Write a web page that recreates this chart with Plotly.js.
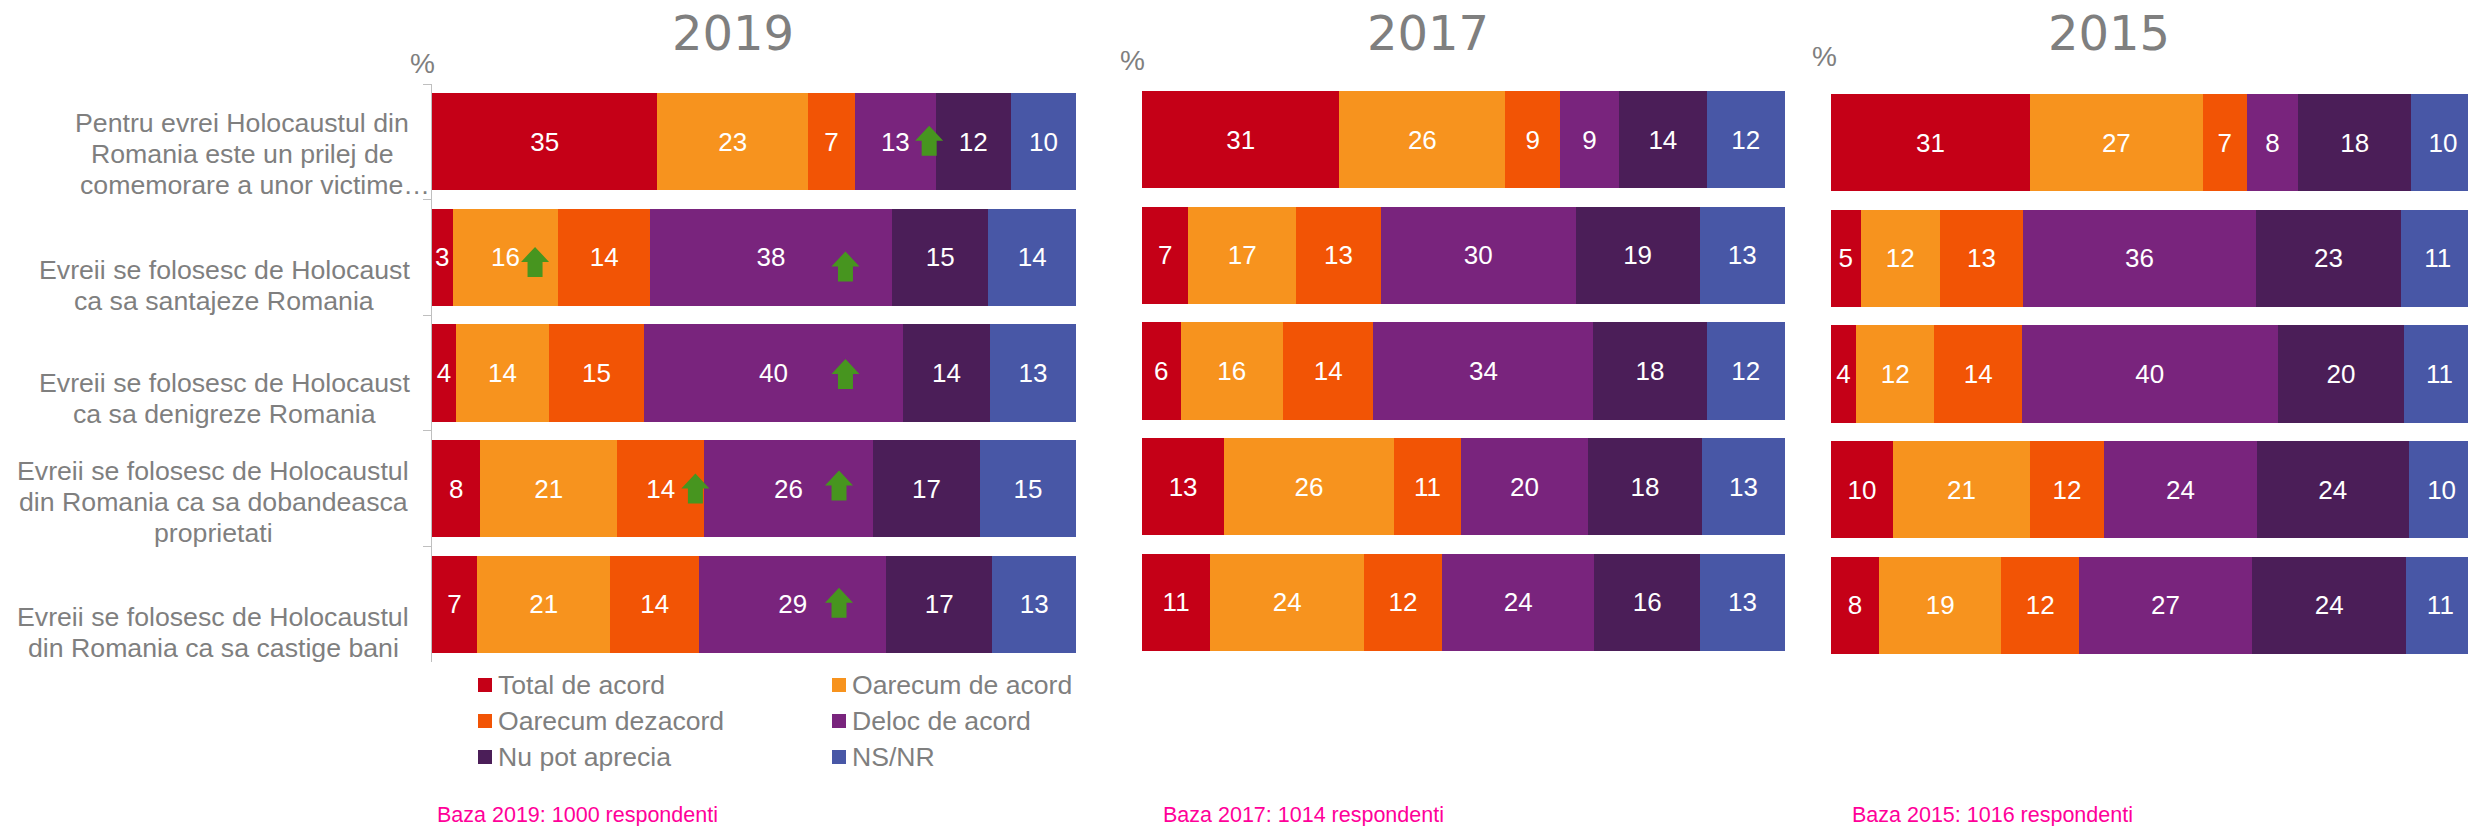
<!DOCTYPE html>
<html><head><meta charset="utf-8">
<script src="https://cdn.plot.ly/plotly-3.0.1.min.js"></script>
<style>html,body{margin:0;padding:0;background:#fff;overflow:hidden}</style>
</head><body><div id="chart" style="width:2468px;height:826px"></div>
<script>
const categories = [
  "Pentru evrei Holocaustul din<br>Romania este un prilej de<br>comemorare a unor victime…",
  "Evreii se folosesc de Holocaust<br>ca sa santajeze Romania",
  "Evreii se folosesc de Holocaust<br>ca sa denigreze Romania",
  "Evreii se folosesc de Holocaustul<br>din Romania ca sa dobandeasca<br>proprietati",
  "Evreii se folosesc de Holocaustul<br>din Romania ca sa castige bani"
];
const seriesNames = ["Total de acord","Oarecum de acord","Oarecum dezacord","Deloc de acord","Nu pot aprecia","NS/NR"];
const seriesColors = ["#C50017","#F7931E","#F25405","#79247D","#4B1E58","#4857A6"];

const total2019 = [35.0,3.2,3.7,7.5,7.0];
const somewhat2019 = [23.4,16.4,14.4,21.3,20.7];
const disagree2019 = [7.3,14.3,14.7,13.5,13.8];
const never2019 = [12.5,37.5,40.1,26.2,29.0];
const cannot2019 = [11.7,15.0,13.5,16.7,16.5];
const nsnr2019 = [10.1,13.6,13.3,14.9,13.0];

const total2017 = [30.7,7.2,6.0,12.8,10.6];
const somewhat2017 = [25.8,16.8,15.9,26.4,23.9];
const disagree2017 = [8.5,13.2,14.1,10.5,12.1];
const never2017 = [9.2,30.3,34.2,19.7,23.7];
const cannot2017 = [13.6,19.3,17.6,17.8,16.4];
const nsnr2017 = [12.2,13.3,12.2,12.9,13.2];

const total2015 = [30.9,4.6,3.9,9.6,7.5];
const somewhat2015 = [26.9,12.3,12.2,21.3,19.0];
const disagree2015 = [6.8,12.9,13.6,11.5,12.1];
const never2015 = [8.0,36.2,39.8,23.7,26.9];
const cannot2015 = [17.6,22.5,19.7,23.6,24.0];
const nsnr2015 = [9.8,11.4,10.9,10.2,10.6];

// significant increases in 2019: [percent position, row, px below the bar centre]
const arrows2019 = [[77.2,0,-1],[16.0,1,4.5],[64.2,1,9],[64.2,2,1],[40.9,3,0],[63.2,3,-3],[63.2,4,-1.5]];

const W = 2468, H = 826;
const px = v => v / W, py = v => 1 - v / H;
const panels = [
  {year:"2019", xa:"x",  ya:"y",  xd:[432,1076], yd:[84,662],  range:[0,100], data:[total2019,somewhat2019,disagree2019,never2019,cannot2019,nsnr2019]},
  {year:"2017", xa:"x2", ya:"y2", xd:[1142,1785],yd:[82,660],  range:[0,100], data:[total2017,somewhat2017,disagree2017,never2017,cannot2017,nsnr2017]},
  {year:"2015", xa:"x3", ya:"y3", xd:[1831,2468],yd:[85,663],  range:[0,99],  data:[total2015,somewhat2015,disagree2015,never2015,cannot2015,nsnr2015]}
];

const traces = [];
panels.forEach(p => p.data.forEach((vals,i) => traces.push({
  type:"bar", orientation:"h", name:seriesNames[i], x:vals, y:categories,
  xaxis:p.xa, yaxis:p.ya, showlegend:false,
  marker:{color:seriesColors[i], line:{width:0}},
  text:vals.map(v=>String(Math.round(v))), textposition:"inside", insidetextanchor:"middle",
  textangle:0, constraintext:"none",
  textfont:{family:"Liberation Sans",size:26,color:"#fff"}, hoverinfo:"name+text"
})));

const layout = {
  width:W, height:H, margin:{l:0,r:0,t:0,b:0}, paper_bgcolor:"#fff", plot_bgcolor:"#fff",
  barmode:"stack", barnorm:"percent", bargap:0.16, showlegend:false,
  annotations:[], shapes:[]
};
panels.forEach((p,idx) => {
  const sx = idx ? String(idx+1) : "";
  layout["xaxis"+sx] = {domain:[px(p.xd[0]),px(p.xd[1])], range:p.range, visible:false, anchor:p.ya, fixedrange:true};
  layout["yaxis"+sx] = {domain:[py(p.yd[1]),py(p.yd[0])], type:"category", categoryorder:"array", categoryarray:categories,
    autorange:false, range:[4.5,-0.5], anchor:p.xa, showgrid:false, zeroline:false, showticklabels:false, fixedrange:true,
    showline:idx===0, linecolor:"#bfbfbf", linewidth:1,
    ticks:idx===0?"outside":"", tickson:"boundaries", ticklen:8, tickcolor:"#bfbfbf", tickwidth:1};
});

const note = (text,x,y,size,color,family,xanchor) => ({text,x:px(x),y:py(y),xref:"paper",yref:"paper",xanchor:xanchor||"center",yanchor:"middle",
  showarrow:false,font:{family:family||"Liberation Sans",size,color},align:"center"});

// year titles, % marks, base notes
const GREY = "#7f7f7f", PINK = "#FF0099";
[["2019",733],["2017",1428],["2015",2109]].forEach(t => layout.annotations.push(note(t[0],t[1],33,48,GREY,"DejaVu Sans")));
[[422,63],[1132,61],[1824,56]].forEach(t => layout.annotations.push(note("%",t[0],t[1],28,GREY)));
[["Baza 2019: 1000 respondenti",435],["Baza 2017: 1014 respondenti",1161],["Baza 2015: 1016 respondenti",1850]]
  .forEach(t => layout.annotations.push(note(t[0],t[1],815,21.5,PINK,null,"left")));

// category labels, one annotation per line so the 31px line pitch can be kept
const labelCenters = [242,224,224,213,213], labelShift = [-12,-28,-26,-13,-28], LINE = 31;
categories.forEach((c,i) => {
  const lines = c.split("<br>");
  lines.forEach((t,k) => layout.annotations.push({text:t,xref:"paper",x:px(labelCenters[i] + (t.endsWith("…") ? 13 : 0)),
    yref:"y",y:i,yshift:labelShift[i]-(k-(lines.length-1)/2)*LINE,
    xanchor:"center",yanchor:"middle",showarrow:false,align:"center",font:{family:"Liberation Sans",size:26.7,color:GREY}}));
});

// legend
const legendX = [478,832], legendY = [685,721,757];
seriesNames.forEach((n,i) => {
  const lx = legendX[i%2], ly = legendY[Math.floor(i/2)];
  layout.shapes.push({type:"rect",xref:"paper",yref:"paper",x0:px(lx),x1:px(lx+14),y0:py(ly+7),y1:py(ly-7),fillcolor:seriesColors[i],line:{width:0}});
  layout.annotations.push(note(n,lx+18,ly,26.6,GREY,null,"left"));
});

// green arrows
const arrowPath = dy => {
  const c = -dy;
  return `M -14 ${c} L 0 ${c+15} L 14 ${c} L 7.5 ${c} L 7.5 ${c-15} L -7.5 ${c-15} L -7.5 ${c} Z`;
};
arrows2019.forEach(a => layout.shapes.push({type:"path",xref:"x",yref:"y",xsizemode:"pixel",ysizemode:"pixel",
  xanchor:a[0],yanchor:a[1],path:arrowPath(a[2]),fillcolor:"#47951F",line:{width:0},layer:"above"}));

Plotly.newPlot("chart",traces,layout,{displayModeBar:false,staticPlot:true});
</script></body></html>
